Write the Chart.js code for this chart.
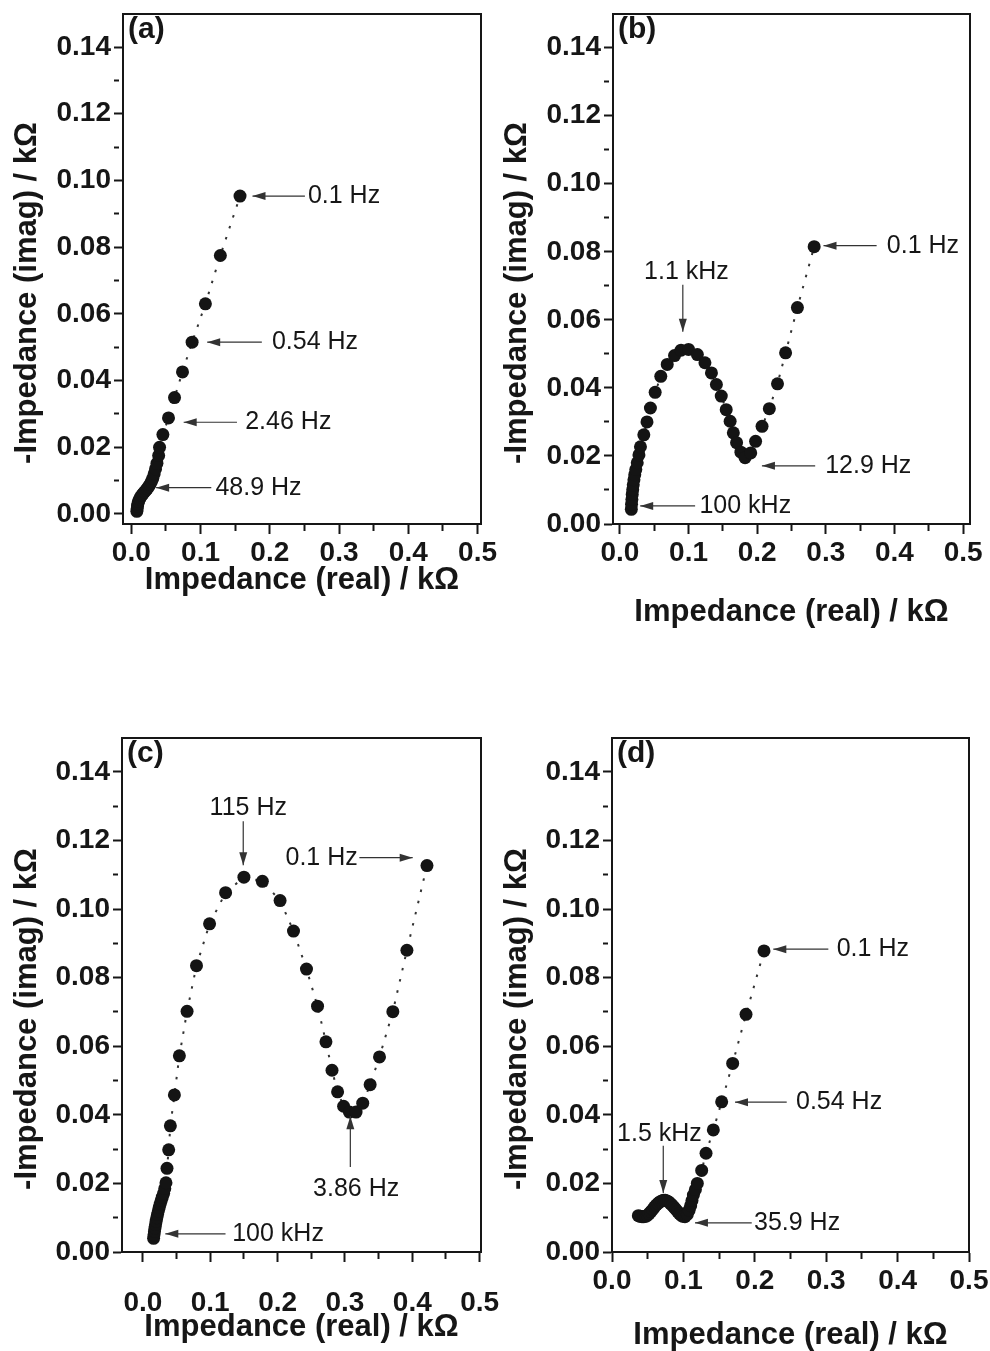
<!DOCTYPE html>
<html>
<head>
<meta charset="utf-8">
<title>Nyquist plots</title>
<script src="https://cdn.jsdelivr.net/npm/chart.js@4.4.1/dist/chart.umd.min.js"></script>
<style>
  html, body { margin: 0; padding: 0; background: #fff; }
  #page { position: relative; width: 990px; height: 1351px; overflow: hidden; }
  .panel { position: absolute; }
</style>
</head>
<body>
<div id="page">
  <div class="panel" style="left:0;top:0;width:515px;height:660px"><canvas id="chartA"></canvas></div>
  <div class="panel" style="left:495px;top:0;width:495px;height:660px"><canvas id="chartB"></canvas></div>
  <div class="panel" style="left:0;top:680px;width:515px;height:671px"><canvas id="chartC"></canvas></div>
  <div class="panel" style="left:495px;top:680px;width:495px;height:671px"><canvas id="chartD"></canvas></div>
</div>
<script>
const FONT = '"Liberation Sans", Arial, Helvetica, sans-serif';
const INK = '#161616';

const xTitle = 'Impedance (real) / kΩ';
const yTitle = '-Impedance (imag) / kΩ';

// panel (a) - real / imag in kOhm, high frequency first
const aReal = [0.008, 0.0085, 0.009, 0.0095, 0.0105, 0.012, 0.0135, 0.015, 0.017, 0.019, 0.021, 0.023, 0.025, 0.027, 0.029, 0.031, 0.033, 0.035, 0.037, 0.0395, 0.0408, 0.0456, 0.0537, 0.0624, 0.0739, 0.0878, 0.107, 0.1286, 0.157];
const aImag = [0.0008, 0.0016, 0.0024, 0.0031, 0.0038, 0.0045, 0.0051, 0.0056, 0.0061, 0.0066, 0.0071, 0.0076, 0.0082, 0.0089, 0.0097, 0.0107, 0.0120, 0.0135, 0.0152, 0.0175, 0.0200, 0.0238, 0.0288, 0.0349, 0.0426, 0.0515, 0.0630, 0.0775, 0.0953];

// panel (b)
const bReal = [0.0167, 0.0170, 0.0175, 0.018, 0.0187, 0.0195, 0.0205, 0.0217, 0.0232, 0.0253, 0.0278, 0.030, 0.0349, 0.0395, 0.0445, 0.0514, 0.0596, 0.069, 0.0796, 0.0891, 0.100, 0.1129, 0.1239, 0.1334, 0.1406, 0.1477, 0.1549, 0.1606, 0.1653, 0.170, 0.1763, 0.1824, 0.1906, 0.1977, 0.2071, 0.2177, 0.2296, 0.2414, 0.2586, 0.283];
const bImag = [0.0043, 0.0058, 0.0072, 0.0087, 0.0101, 0.0115, 0.0130, 0.0145, 0.0160, 0.0180, 0.0203, 0.0227, 0.0262, 0.0300, 0.0341, 0.0387, 0.0434, 0.0469, 0.0495, 0.0511, 0.0513, 0.0498, 0.0474, 0.0444, 0.0410, 0.0376, 0.0336, 0.0302, 0.0268, 0.0239, 0.0211, 0.0195, 0.0209, 0.0243, 0.0287, 0.0339, 0.0412, 0.0503, 0.0636, 0.0815];

// panel (c)
const cReal = [0.0159, 0.0165, 0.0172, 0.018, 0.0188, 0.0197, 0.0207, 0.0218, 0.023, 0.0243, 0.0257, 0.0272, 0.0288, 0.0308, 0.0325, 0.0343, 0.0358, 0.0383, 0.0408, 0.0468, 0.0542, 0.0656, 0.0796, 0.099, 0.1228, 0.150, 0.1774, 0.2037, 0.2236, 0.2429, 0.2593, 0.2718, 0.2808, 0.2891, 0.298, 0.3066, 0.3165, 0.3264, 0.3374, 0.3513, 0.3711, 0.392, 0.4218];
const cImag = [0.0040, 0.0050, 0.0060, 0.0070, 0.0080, 0.0090, 0.0100, 0.0110, 0.0120, 0.0130, 0.0140, 0.0150, 0.0160, 0.0171, 0.0185, 0.0202, 0.0244, 0.0298, 0.0368, 0.0458, 0.0572, 0.0702, 0.0835, 0.0957, 0.1048, 0.1093, 0.1081, 0.1025, 0.0936, 0.0825, 0.0717, 0.0613, 0.0530, 0.0467, 0.0425, 0.0408, 0.0408, 0.0434, 0.0488, 0.0569, 0.0701, 0.0880, 0.1127];

// panel (d)
const dReal = [0.0369, 0.0395, 0.042, 0.0445, 0.047, 0.0495, 0.052, 0.0545, 0.057, 0.0595, 0.062, 0.0645, 0.067, 0.0695, 0.072, 0.0745, 0.077, 0.0795, 0.082, 0.0845, 0.087, 0.0895, 0.092, 0.0945, 0.097, 0.0995, 0.1022, 0.1055, 0.108, 0.1102, 0.112, 0.114, 0.1168, 0.1195, 0.1256, 0.1317, 0.1419, 0.1536, 0.169, 0.1877, 0.2129];
const dImag = [0.0106, 0.0104, 0.0103, 0.0103, 0.0104, 0.0107, 0.0112, 0.0118, 0.0124, 0.0131, 0.0137, 0.0142, 0.0146, 0.0149, 0.0151, 0.0151, 0.0149, 0.0146, 0.0141, 0.0136, 0.0130, 0.0124, 0.0118, 0.0112, 0.0107, 0.0104, 0.0103, 0.0110, 0.0122, 0.0135, 0.0150, 0.0166, 0.0182, 0.0200, 0.0238, 0.0288, 0.0356, 0.0438, 0.0550, 0.0693, 0.0878];

// frequency labels with arrows (data units)
const aNotes = [
  { text: '0.1 Hz', pos: [0.255, 0.0953], align: 'left', from: [0.2507, 0.0953], to: [0.175, 0.0953] },
  { text: '0.54 Hz', pos: [0.203, 0.0515], align: 'left', from: [0.1885, 0.0515], to: [0.1096, 0.0515] },
  { text: '2.46 Hz', pos: [0.1645, 0.0275], align: 'left', from: [0.1526, 0.0275], to: [0.0756, 0.0275] },
  { text: '48.9 Hz', pos: [0.1215, 0.0079], align: 'left', from: [0.1155, 0.0079], to: [0.0358, 0.0079] }
];
const bNotes = [
  { text: '1.1 kHz', pos: [0.097, 0.0741], align: 'center', from: [0.0917, 0.0703], to: [0.0917, 0.0565] },
  { text: '0.1 Hz', pos: [0.3888, 0.0818], align: 'left', from: [0.374, 0.0818], to: [0.2966, 0.0818] },
  { text: '12.9 Hz', pos: [0.2991, 0.0171], align: 'left', from: [0.2845, 0.0171], to: [0.2069, 0.0171] },
  { text: '100 kHz', pos: [0.1159, 0.0053], align: 'left', from: [0.1096, 0.0053], to: [0.0296, 0.0053] }
];
const cNotes = [
  { text: '115 Hz', pos: [0.1565, 0.1294], align: 'center', from: [0.149, 0.1256], to: [0.149, 0.1128] },
  { text: '0.1 Hz', pos: [0.319, 0.115], align: 'right', from: [0.3214, 0.115], to: [0.4006, 0.115] },
  { text: '3.86 Hz', pos: [0.3166, 0.0183], align: 'center', from: [0.308, 0.0248], to: [0.308, 0.0396] },
  { text: '100 kHz', pos: [0.1326, 0.0053], align: 'left', from: [0.1227, 0.0053], to: [0.0333, 0.0053] }
];
const dNotes = [
  { text: '0.1 Hz', pos: [0.3147, 0.0883], align: 'left', from: [0.303, 0.0883], to: [0.2259, 0.0883] },
  { text: '0.54 Hz', pos: [0.2577, 0.0437], align: 'left', from: [0.2447, 0.0437], to: [0.1723, 0.0437] },
  { text: '1.5 kHz', pos: [0.0665, 0.0345], align: 'center', from: [0.0718, 0.031], to: [0.0718, 0.0172] },
  { text: '35.9 Hz', pos: [0.1989, 0.0085], align: 'left', from: [0.1957, 0.0085], to: [0.1162, 0.0085] }
];

function toPoints(re, im) {
  return re.map((x, i) => ({ x: x, y: im[i] }));
}

// frame, panel letter, y title and arrows
const panelDeco = {
  id: 'panelDeco',
  afterDraw(chart, args, opts) {
    const ctx = chart.ctx;
    const area = chart.chartArea;
    const xs = chart.scales.x, ys = chart.scales.y;
    ctx.save();
    ctx.strokeStyle = INK;
    ctx.lineWidth = 2;
    ctx.beginPath();
    ctx.moveTo(area.left, area.top);
    ctx.lineTo(area.right, area.top);
    ctx.lineTo(area.right, area.bottom);
    ctx.stroke();

    ctx.fillStyle = INK;
    ctx.font = 'bold 30px ' + FONT;
    ctx.textAlign = 'left';
    ctx.textBaseline = 'top';
    ctx.fillText(opts.letter, area.left + 5, area.top + 1);

    ctx.save();
    ctx.translate(opts.yTitleX, (area.top + area.bottom) / 2 + 24);
    ctx.rotate(-Math.PI / 2);
    ctx.font = 'bold 31px ' + FONT;
    ctx.textAlign = 'center';
    ctx.textBaseline = 'middle';
    ctx.fillText(yTitle, 0, 0);
    ctx.restore();

    ctx.font = '25px ' + FONT;
    ctx.textBaseline = 'middle';
    opts.notes.forEach(n => {
      const x1 = xs.getPixelForValue(n.from[0]), y1 = ys.getPixelForValue(n.from[1]);
      const x2 = xs.getPixelForValue(n.to[0]), y2 = ys.getPixelForValue(n.to[1]);
      ctx.strokeStyle = '#333';
      ctx.lineWidth = 1.2;
      ctx.beginPath();
      ctx.moveTo(x1, y1);
      ctx.lineTo(x2, y2);
      ctx.stroke();
      const a = Math.atan2(y2 - y1, x2 - x1);
      const len = 13, half = 4;
      ctx.beginPath();
      ctx.moveTo(x2, y2);
      ctx.lineTo(x2 - len * Math.cos(a) + half * Math.sin(a), y2 - len * Math.sin(a) - half * Math.cos(a));
      ctx.lineTo(x2 - len * Math.cos(a) - half * Math.sin(a), y2 - len * Math.sin(a) + half * Math.cos(a));
      ctx.closePath();
      ctx.fillStyle = '#333';
      ctx.fill();
      ctx.fillStyle = INK;
      ctx.textAlign = n.align;
      ctx.fillText(n.text, xs.getPixelForValue(n.pos[0]), ys.getPixelForValue(n.pos[1]));
    });
    ctx.restore();
  }
};

function isMajor(value, step) {
  return Math.round(value * 100) % step === 0;
}

function makePanel(id, re, im, notes, p) {
  return new Chart(document.getElementById(id), {
    type: 'scatter',
    data: {
      datasets: [{
        data: toPoints(re, im),
        showLine: true,
        borderColor: '#333',
        borderWidth: 2,
        borderDash: [2.5, 9],
        pointRadius: 6.5,
        pointHoverRadius: 6.5,
        pointBackgroundColor: '#141414',
        pointBorderWidth: 0
      }]
    },
    options: {
      responsive: true,
      maintainAspectRatio: false,
      animation: false,
      layout: { padding: { top: p.padTop, right: p.padRight, left: 0, bottom: 0 } },
      plugins: {
        legend: { display: false },
        tooltip: { enabled: false },
        panelDeco: { letter: p.letter, yTitleX: p.yTitleX, notes: notes }
      },
      scales: {
        x: {
          type: 'linear',
          position: 'bottom',
          min: p.xMin,
          max: p.xMax,
          afterFit: s => { s.height = p.xAxisHeight; s.paddingLeft = 0; s.paddingRight = 0; },
          border: { display: true, color: INK, width: 2 },
          grid: {
            drawOnChartArea: false,
            tickLength: 10,
            tickWidth: 2,
            tickColor: INK,
            tickBorderDash: c => isMajor(c.tick.value, 10) ? [] : [6, 40]
          },
          ticks: {
            stepSize: 0.05,
            includeBounds: false,
            autoSkip: false,
            maxRotation: 0,
            minRotation: 0,
            maxTicksLimit: 100,
            padding: p.xLabelPad,
            color: INK,
            font: { family: FONT, size: 28, weight: 'bold' },
            callback: v => isMajor(v, 10) ? v.toFixed(1) : ''
          },
          title: {
            display: true,
            text: xTitle,
            color: INK,
            font: { family: FONT, size: 31, weight: 'bold', lineHeight: 1 },
            padding: { top: 0, bottom: p.xTitlePad }
          }
        },
        y: {
          type: 'linear',
          position: 'left',
          min: p.yMin,
          max: 0.1499,
          afterFit: s => { s.width = p.yAxisWidth; s.paddingTop = 0; s.paddingBottom = 0; },
          border: { display: true, color: INK, width: 2 },
          grid: {
            drawOnChartArea: false,
            tickLength: 9,
            tickWidth: 2,
            tickColor: INK,
            tickBorderDash: c => isMajor(c.tick.value, 2) ? [] : [5, 40]
          },
          ticks: {
            stepSize: 0.01,
            includeBounds: false,
            autoSkip: false,
            maxTicksLimit: 100,
            padding: 3,
            color: INK,
            font: { family: FONT, size: 28, weight: 'bold' },
            callback: v => isMajor(v, 2) ? v.toFixed(2) : ''
          }
        }
      }
    },
    plugins: [panelDeco]
  });
}

makePanel('chartA', aReal, aImag, aNotes, { letter: '(a)', xMin: -0.012, xMax: 0.505, yMin: -0.003, padTop: 14, padRight: 34, yAxisWidth: 123, xAxisHeight: 136, xLabelPad: 2, xTitlePad: 64, yTitleX: 27 });
makePanel('chartB', bReal, bImag, bNotes, { letter: '(b)', xMin: -0.01, xMax: 0.51, yMin: 0, padTop: 14, padRight: 20, yAxisWidth: 118, xAxisHeight: 136, xLabelPad: 2, xTitlePad: 32, yTitleX: 22 });
makePanel('chartC', cReal, cImag, cNotes, { letter: '(c)', xMin: -0.031, xMax: 0.502, yMin: 0, padTop: 58, padRight: 34, yAxisWidth: 122, xAxisHeight: 99, xLabelPad: 24, xTitlePad: 8, yTitleX: 27 });
makePanel('chartD', dReal, dImag, dNotes, { letter: '(d)', xMin: 0, xMax: 0.5, yMin: 0, padTop: 58, padRight: 21, yAxisWidth: 117, xAxisHeight: 99, xLabelPad: 2, xTitlePad: 0, yTitleX: 22 });
</script>
</body>
</html>
